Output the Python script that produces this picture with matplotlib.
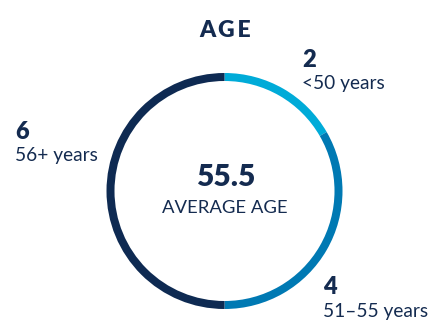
import matplotlib
matplotlib.use("Agg")
import matplotlib.pyplot as plt

counts = [2, 4, 6]
numbers = ["2", "4", "6"]
labels = ["<50 years", "51–55 years", "56+ years"]
colors = ["#00ABD8", "#0079B3", "#0E2A52"]
title = "AGE"
avg_value = "55.5"
avg_label = "AVERAGE AGE"

navy = "#142B50"
W, H = 431, 322
fig = plt.figure(figsize=(W / 100, H / 100), dpi=100)
ax = fig.add_axes([0, 0, 1, 1])

ax.pie(counts, colors=colors, startangle=90, counterclock=False,
       center=(224.5, H - 191), radius=118,
       wedgeprops=dict(width=8, linewidth=0))
ax.set_xlim(0, W)
ax.set_ylim(0, H)
ax.set_aspect("equal")
ax.axis("off")

plt.rcParams['font.family'] = ['Lato', 'DejaVu Sans']

ax.text(225, H - 30, "\u2009".join(title), ha="center", va="center", fontsize=16.5,
        fontweight="heavy", color=navy)
ax.text(226, H - 177, avg_value, ha="center", va="center", fontsize=21.5,
        fontweight="heavy", color=navy)
ax.text(225, H - 208, avg_label, ha="center", va="center", fontsize=13.3,
        color=navy)

pos = {"2": (302, 60, 83), "4": (323, 287, 311), "6": (15, 132, 156)}
for n, lab in zip(numbers, labels):
    x, yn, yl = pos[n]
    ax.text(x, H - yn, n, ha="left", va="center", fontsize=17,
            fontweight="heavy", color=navy)
    ax.text(x, H - yl, lab, ha="left", va="center", fontsize=13.8, color=navy)

fig.savefig("out.png", dpi=100, facecolor="white")
